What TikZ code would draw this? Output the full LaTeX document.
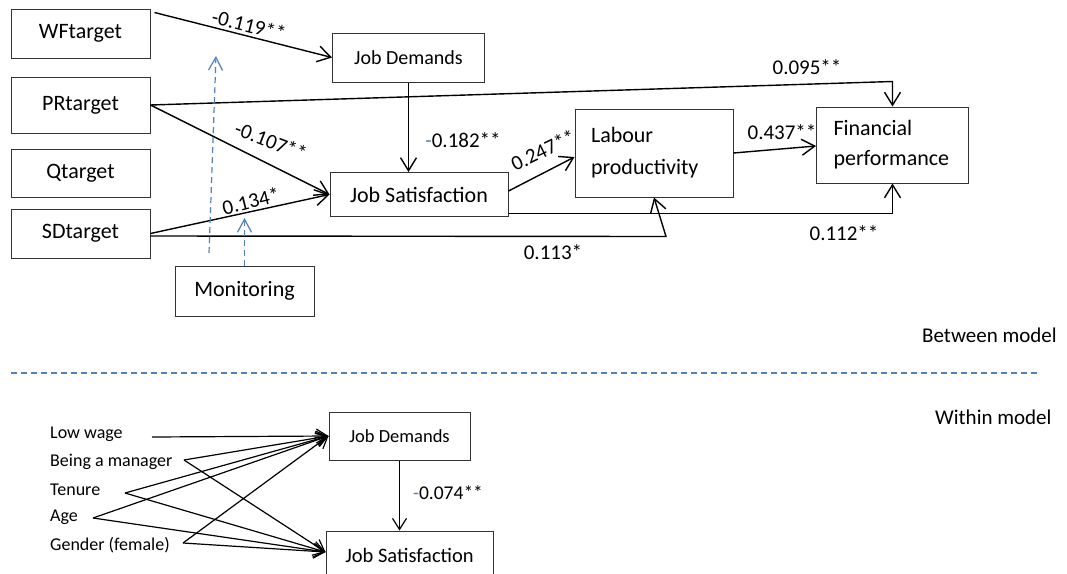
\documentclass[tikz,border=0pt]{standalone}
\usepackage{fontspec}
\setmainfont{Carlito}
\usetikzlibrary{arrows.meta}
\definecolor{mblue}{RGB}{79,129,189}
\begin{document}
\begin{tikzpicture}[x=1pt,y=-1pt,
  box/.style={draw=black!80, line width=1pt, inner sep=0pt, font=\fontsize{22}{26}\selectfont},
  arr/.style={line width=1.4pt, -{Straight Barb[length=13pt,width=16pt,line width=1.4pt]}},
  thinarr/.style={line width=1.2pt, -{Straight Barb[length=11pt,width=14pt,line width=1.2pt]}},
  bluearr/.style={draw=mblue, line width=1.2pt, dash pattern=on 6pt off 4pt, -{Straight Barb[length=13pt,width=14pt,line width=1.2pt]}},
  lbl/.style={font=\fontsize{21}{25}\selectfont, inner sep=0pt},
  small/.style={font=\fontsize{18}{22}\selectfont, inner sep=0pt, anchor=west}
]
\useasboundingbox (0,0) rectangle (1067,573);

% ---- Between model boxes
\node[box, minimum width=139pt, minimum height=49pt] (WF) at (80.5,33.5) {WFtarget};
\node[box, minimum width=139pt, minimum height=56pt] (PR) at (80.5,105) {PRtarget};
\node[box, minimum width=139pt, minimum height=48pt] (Q) at (80.5,173) {Qtarget};
\node[box, minimum width=139pt, minimum height=49pt] (SD) at (80.5,233.5) {SDtarget};
\node[box, minimum width=139pt, minimum height=50pt] (MO) at (244.5,291) {Monitoring};
\node[box, minimum width=152pt, minimum height=49pt, font=\fontsize{20}{24}\selectfont] (JD) at (408.5,57.5) {Job Demands};
\node[box, minimum width=178pt, minimum height=44pt] (JS) at (419,194.5) {Job Satisfaction};
\node[box, minimum width=158pt, minimum height=88pt, text width=126pt, inner xsep=16pt, align=left, font=\fontsize{22}{32}\selectfont] (LP) at (654,153) {Labour\\productivity};
\node[box, minimum width=152pt, minimum height=76pt, text width=118pt, inner xsep=17pt, align=left, font=\fontsize{22}{30}\selectfont] (FP) at (892.5,145) {Financial\\performance};

% ---- Between model connectors
\draw[arr] ([shift={(4pt,-4pt)}]WF.north east) -- (JD.west);
\draw[arr] (PR.east) -- ([yshift=25pt]FP.north) -- (FP.north);
\draw[arr] (PR.east) -- (JS.west);
\draw[arr] (SD.east) -- (JS.west);
\draw[arr] ([yshift=-2.5pt]SD.east) -- ([shift={(12pt,-39pt)}]LP.south) -- (LP.south);
\draw[arr] ([yshift=-19pt]JS.east) -| (FP.south);
\draw[arr] (JD.south) -- (JD.south |- JS.north);
\draw[arr] ([yshift=3.5pt]JS.east) -- ([yshift=-4pt]LP.west);
\draw[arr] (LP.east) -- ([yshift=-1pt]FP.west);

% moderation (dashed blue)
\coordinate (m1) at (209,253);
\coordinate (m1t) at (216,56);
\coordinate (m2t) at (244.5,218);
\draw[bluearr] (m1) -- (m1t);
\draw[bluearr] (MO.north) -- (m2t);

% ---- Labels
\node[lbl, rotate=-14] (l1) at (249,25) {-0.119**};
\node[lbl] (l2) at (807,67) {0.095**};
\node[lbl, rotate=-21] (l3) at (271,141) {-0.107**};
\node[lbl, rotate=14] (l4) at (251,201) {0.134*};
\node[lbl] (l5) at (463,140) {\textcolor{mblue}{-}0.182**};
\node[lbl, rotate=26] (l6) at (543,150) {0.247**};
\node[lbl] (l7) at (782,132) {0.437**};
\node[lbl] (l8) at (844,233) {0.112**};
\node[lbl] (l9) at (553,252) {0.113*};
\node[lbl, anchor=west] (bm) at (922,335) {Between model};

% ---- separator
\coordinate (s1) at (11,373);
\coordinate (s2) at (1038,373);
\draw[mblue, line width=1.2pt, dash pattern=on 6pt off 4pt] (s1) -- (s2);

\node[lbl, anchor=west] (wm) at (935,417) {Within model};

% ---- Within model
\node[box, minimum width=141pt, minimum height=48pt, font=\fontsize{18.5}{22}\selectfont] (JD2) at (399.5,436) {Job Demands};
\node[box, minimum width=167pt, minimum height=48pt, font=\fontsize{20.5}{24}\selectfont] (JS2) at (409.5,555) {Job Satisfaction};

\node[small] (lw) at (50,434) {Low wage};
\node[small] (mg) at (50,462) {Being a manager};
\node[small] (te) at (50,490) {Tenure};
\node[small] (ag) at (50,517) {Age};
\node[small] (ge) at (50,545) {Gender (female)};

\coordinate (lwe) at (152,437);
\coordinate (mge) at (184,460);
\coordinate (tee) at (125,493);
\coordinate (age) at (93,518);
\coordinate (gee) at (183,543);
\coordinate (jst) at ([yshift=3pt]JS2.west);

\draw[thinarr] (lwe) -- (JD2.west);
\draw[thinarr] (mge) -- (JD2.west);
\draw[thinarr] (tee) -- (JD2.west);
\draw[thinarr] (age) -- (JD2.west);
\draw[thinarr] (gee) -- (JD2.west);
\draw[thinarr] (mge) -- (jst);
\draw[thinarr] (tee) -- (jst);
\draw[thinarr] (age) -- (jst);
\draw[thinarr] (gee) -- (jst);

\draw[thinarr] (JD2.south) -- (JD2.south |- JS2.north);
\node[lbl, font=\fontsize{19.5}{23}\selectfont] (l10) at (448,493) {\textcolor{mblue}{-}0.074**};
\end{tikzpicture}
\end{document}
